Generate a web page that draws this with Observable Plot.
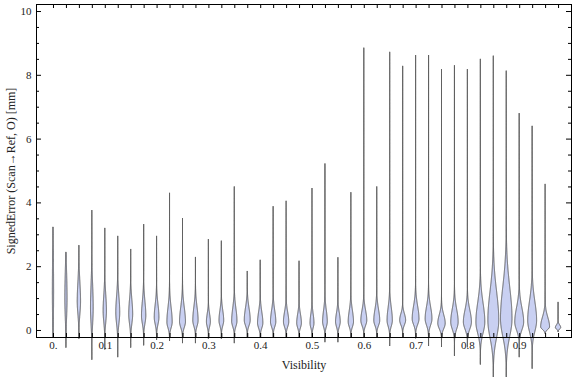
<!DOCTYPE html>
<html><head><meta charset="utf-8">
<script src="https://cdn.jsdelivr.net/npm/d3@7"></script>
<script src="https://cdn.jsdelivr.net/npm/@observablehq/plot@0.6"></script>
<style>body{margin:0;background:#fff;}</style>
</head><body><div id="chart"></div>
<script>
const visibility = [0, 0.025, 0.05, 0.075, 0.1, 0.125, 0.15, 0.175, 0.2, 0.225,
  0.25, 0.275, 0.3, 0.325, 0.35, 0.375, 0.4, 0.425, 0.45, 0.475,
  0.5, 0.525, 0.55, 0.575, 0.6, 0.625, 0.65, 0.675, 0.7, 0.725,
  0.75, 0.775, 0.8, 0.825, 0.85, 0.875, 0.9, 0.925, 0.95, 0.975];
const maxError = [3.23, 2.44, 2.66, 3.76, 3.2, 2.95, 2.54, 3.32, 2.95, 4.3,
  3.51, 2.29, 2.85, 2.8, 4.5, 1.85, 2.2, 3.88, 4.05, 2.17,
  4.45, 5.22, 2.28, 4.32, 8.85, 4.5, 8.72, 8.28, 8.62, 8.62,
  8.18, 8.3, 8.18, 8.5, 8.6, 8.13, 6.8, 6.4, 4.58, 0.88];
const minError = [-0.22, -0.54, -0.26, -0.92, -0.6, -0.84, -0.54, -0.47, -0.3, -0.33,
  -0.4, -0.4, -0.26, -0.26, -0.4, -0.23, -0.23, -0.23, -0.23, -0.23,
  -0.23, -0.37, -0.37, -0.23, -0.23, -0.23, -0.49, -0.23, -0.25, -0.49,
  -0.52, -0.8, -0.53, -1.07, -1.47, -1.47, -0.84, -1.2, -0.1, -0.05];
const modeError = [1.2, 1.0, 0.9, 0.7, 0.6, 0.55, 0.5, 0.45, 0.4, 0.25,
  0.26, 0.3, 0.26, 0.3, 0.28, 0.31, 0.22, 0.26, 0.26, 0.22,
  0.22, 0.26, 0.26, 0.26, 0.3, 0.3, 0.3, 0.31, 0.35, 0.35,
  0.21, 0.25, 0.25, 0.25, 0.31, 0.35, 0.25, 0.3, 0.1, 0.08];
const peakDensity = [0.10, 0.18, 0.27, 0.22, 0.27, 0.32, 0.32, 0.35, 0.38, 0.43,
  0.48, 0.43, 0.32, 0.38, 0.43, 0.48, 0.43, 0.43, 0.43, 0.38,
  0.32, 0.38, 0.38, 0.43, 0.48, 0.48, 0.43, 0.48, 0.55, 0.55,
  0.6, 0.6, 0.65, 0.72, 0.88, 0.93, 0.72, 0.72, 0.72, 0.43];
const upperSpread = [1.2, 0.8, 0.6, 0.7, 0.5, 0.5, 0.45, 0.45, 0.4, 0.45,
  0.45, 0.42, 0.25, 0.32, 0.4, 0.38, 0.35, 0.35, 0.3, 0.28,
  0.28, 0.35, 0.28, 0.35, 0.32, 0.35, 0.4, 0.2, 0.4, 0.38,
  0.27, 0.4, 0.38, 0.6, 0.9, 1.0, 0.45, 0.6, 0.3, 0.08];
const lowerSpread = [1.0, 0.6, 0.4, 0.5, 0.35, 0.35, 0.3, 0.25, 0.22, 0.18,
  0.18, 0.18, 0.16, 0.17, 0.17, 0.17, 0.16, 0.16, 0.16, 0.15,
  0.15, 0.16, 0.16, 0.16, 0.16, 0.16, 0.18, 0.15, 0.18, 0.2,
  0.17, 0.22, 0.22, 0.35, 0.55, 0.55, 0.25, 0.35, 0.08, 0.05];

const xTickValues = [0, 0.1, 0.2, 0.3, 0.4, 0.5, 0.6, 0.7, 0.8, 0.9];
const xTickLabels = ["0.", "0.1", "0.2", "0.3", "0.4", "0.5", "0.6", "0.7", "0.8", "0.9"];
const yTickValues = [0, 2, 4, 6, 8, 10];
const yTickLabels = ["0", "2", "4", "6", "8", "10"];
const yMinorTicks = [0.5, 1, 1.5, 2.5, 3, 3.5, 4.5, 5, 5.5, 6.5, 7, 7.5, 8.5, 9, 9.5];

const W = 576, H = 377, mL = 36, mR = 5, mT = 4, mB = 40;
const frameW = W - mL - mR, frameH = H - mT - mB;
const xDomain = [-0.0328, 1.0];
const pxPerUnit = frameW / (xDomain[1] - xDomain[0]);
const maxHalfWidth = 6.2 / pxPerUnit;

const rows = [];
visibility.forEach((v, i) => {
  const lo = minError[i], hi = maxError[i], m = modeError[i];
  const n = Math.ceil((hi - lo) / 0.006);
  for (let k = 0; k <= n; k++) {
    const y = lo + (hi - lo) * k / n;
    const s = y >= m ? upperSpread[i] : lowerSpread[i];
    const z = (y - m) / s;
    const hw = peakDensity[i] * maxHalfWidth * Math.exp(-0.5 * z * z);
    rows.push({i, y, x1: v - hw, x2: v + hw});
  }
});

const textColor = "#222";
const chart = Plot.plot({
  width: W, height: H,
  marginLeft: mL, marginRight: mR, marginTop: mT, marginBottom: mB,
  x: {domain: xDomain, axis: null},
  y: {domain: [-0.22, 10.22], axis: null},
  style: {fontFamily: "'Liberation Serif', 'Times New Roman', serif", fontSize: "11px", background: "white", overflow: "visible"},
  marks: [
    Plot.areaX(rows, {y: "y", x1: "x1", x2: "x2", z: "i", fill: "#c9d0f2", stroke: "#4a4a4a", strokeWidth: 0.9, curve: "linear"}),
    Plot.frame({stroke: "black", strokeWidth: 1}),
    Plot.tickX(visibility, {x: d => d, insetTop: frameH - 4, stroke: "black"}),
    Plot.tickX(visibility, {x: d => d, insetBottom: frameH - 4, stroke: "black"}),
    Plot.tickY(yTickValues, {y: d => d, insetRight: frameW - 5, stroke: "black"}),
    Plot.tickY(yMinorTicks, {y: d => d, insetRight: frameW - 3, stroke: "black"}),
    Plot.tickY(yTickValues, {y: d => d, insetLeft: frameW - 5, stroke: "black"}),
    Plot.tickY(yMinorTicks, {y: d => d, insetLeft: frameW - 3, stroke: "black"}),
    Plot.text(xTickLabels, {x: (d, i) => xTickValues[i], text: d => d, frameAnchor: "bottom", dy: 11, fill: textColor, fontSize: 11}),
    Plot.text(yTickLabels, {y: (d, i) => yTickValues[i], text: d => d, frameAnchor: "left", dx: -5, textAnchor: "end", fill: textColor, fontSize: 11}),
    Plot.text(["Visibility"], {text: d => d, frameAnchor: "bottom", dy: 31, textAnchor: "middle", fill: textColor, fontSize: 12}),
    Plot.text(["SignedError (Scan\u2192Ref, O) [mm]"], {text: d => d, frameAnchor: "left", dx: -25, rotate: -90, textAnchor: "middle", fill: textColor, fontSize: 12})
  ]
});
document.getElementById("chart").appendChild(chart);
</script>
</body></html>
